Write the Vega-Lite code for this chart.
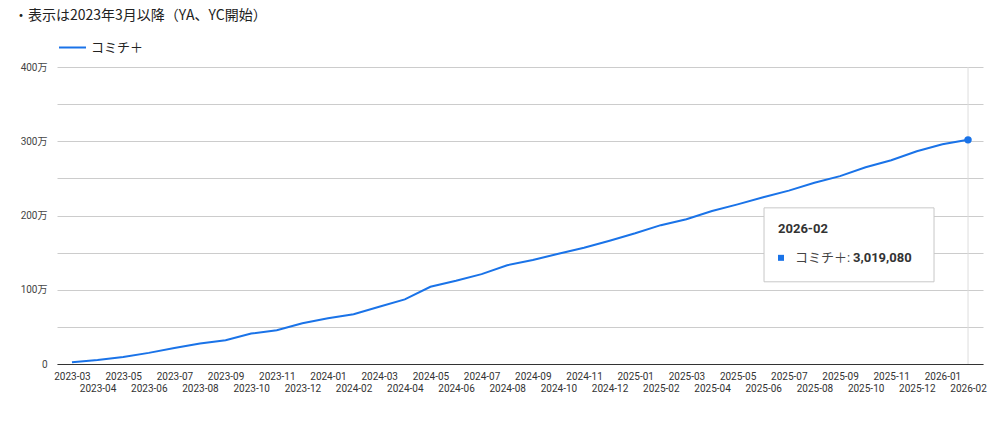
{
  "$schema": "https://vega.github.io/schema/vega-lite/v6.json",
  "width": 926,
  "height": 297,
  "autosize": {"type": "none"},
  "padding": {"left": 57, "top": 67, "right": 18, "bottom": 63},
  "background": "white",
  "title": {
    "text": "・表示は2023年3月以降（YA、YC開始）",
    "anchor": "start",
    "frame": "group",
    "dx": -43,
    "offset": 10,
    "font": "Noto Sans CJK JP",
    "fontSize": 14,
    "fontWeight": "normal",
    "color": "#222222"
  },
  "config": {
    "view": {"stroke": null},
    "font": "Roboto",
    "axis": {"labelFont": "Roboto", "labelColor": "#444444", "labelFontSize": 10, "ticks": false, "title": null}
  },
  "data": {
    "values": [
      {"month": "2023-03", "value": 25000},
      {"month": "2023-04", "value": 55000},
      {"month": "2023-05", "value": 95000},
      {"month": "2023-06", "value": 150000},
      {"month": "2023-07", "value": 215000},
      {"month": "2023-08", "value": 275000},
      {"month": "2023-09", "value": 320000},
      {"month": "2023-10", "value": 410000},
      {"month": "2023-11", "value": 455000},
      {"month": "2023-12", "value": 550000},
      {"month": "2024-01", "value": 615000},
      {"month": "2024-02", "value": 670000},
      {"month": "2024-03", "value": 770000},
      {"month": "2024-04", "value": 870000},
      {"month": "2024-05", "value": 1040000},
      {"month": "2024-06", "value": 1120000},
      {"month": "2024-07", "value": 1210000},
      {"month": "2024-08", "value": 1330000},
      {"month": "2024-09", "value": 1400000},
      {"month": "2024-10", "value": 1485000},
      {"month": "2024-11", "value": 1565000},
      {"month": "2024-12", "value": 1660000},
      {"month": "2025-01", "value": 1760000},
      {"month": "2025-02", "value": 1870000},
      {"month": "2025-03", "value": 1950000},
      {"month": "2025-04", "value": 2060000},
      {"month": "2025-05", "value": 2150000},
      {"month": "2025-06", "value": 2245000},
      {"month": "2025-07", "value": 2335000},
      {"month": "2025-08", "value": 2440000},
      {"month": "2025-09", "value": 2530000},
      {"month": "2025-10", "value": 2650000},
      {"month": "2025-11", "value": 2745000},
      {"month": "2025-12", "value": 2865000},
      {"month": "2026-01", "value": 2960000},
      {"month": "2026-02", "value": 3019080}
    ]
  },
  "encoding": {
    "x": {
      "field": "month",
      "type": "ordinal",
      "sort": "ascending",
      "scale": {"type": "point", "padding": 0.585},
      "axis": {
        "labelAngle": 0,
        "labelOverlap": false,
        "labelPadding": 7,
        "labelLineHeight": 12,
        "labelColor": "#333333",
        "labelExpr": "toNumber(substring(datum.value, 5, 7)) % 2 === 1 ? datum.label : [' ', datum.label]",
        "domainColor": "#333333",
        "domainWidth": 1,
        "grid": false
      }
    },
    "y": {
      "field": "value",
      "type": "quantitative",
      "scale": {"domain": [0, 4000000], "nice": false},
      "axis": {
        "values": [0, 500000, 1000000, 1500000, 2000000, 2500000, 3000000, 3500000, 4000000],
        "labelExpr": "datum.value === 0 ? '0' : (datum.value % 1000000 === 0 ? (datum.value / 10000) + '万' : '')",
        "labelFont": "Roboto, Noto Sans CJK JP",
        "labelPadding": 10,
        "domain": false,
        "gridColor": "#cccccc",
        "gridWidth": 1
      }
    }
  },
  "layer": [
    {
      "transform": [{"filter": "datum.month === '2026-02'"}],
      "mark": {"type": "rule", "color": "#dddddd", "strokeWidth": 1},
      "encoding": {"y": null}
    },
    {
      "mark": {"type": "line", "strokeWidth": 2},
      "encoding": {
        "color": {
          "datum": "コミチ＋",
          "scale": {"range": ["#1a73e8"]},
          "legend": {
            "title": null,
            "orient": "none",
            "legendX": 1,
            "legendY": -34,
            "padding": 0,
            "symbolType": "stroke",
            "symbolSize": 729,
            "symbolStrokeWidth": 2,
            "labelOffset": 4,
            "labelFont": "Roboto, Noto Sans CJK JP",
            "labelFontSize": 13,
            "labelColor": "#222222"
          }
        }
      }
    },
    {
      "transform": [{"filter": "datum.month === '2026-02'"}],
      "mark": {"type": "point", "filled": true, "opacity": 1, "size": 55, "color": "#1a73e8"}
    },
    {
      "transform": [{"filter": "datum.month === '2026-02'"}],
      "mark": {
        "type": "point",
        "shape": "M-1,-0.435L1,-0.435L1,0.435L-1,0.435Z",
        "size": 28900,
        "filled": true,
        "opacity": 1,
        "fill": "#ffffff",
        "stroke": "#c8c8c8",
        "strokeWidth": 1,
        "xOffset": -119,
        "yOffset": 105
      }
    },
    {
      "transform": [{"filter": "datum.month === '2026-02'"}],
      "mark": {"type": "text", "align": "left", "baseline": "middle", "dx": -190, "dy": 89, "font": "Roboto", "fontSize": 13, "fontWeight": "bold", "color": "#333333"},
      "encoding": {"text": {"field": "month"}}
    },
    {
      "transform": [{"filter": "datum.month === '2026-02'"}],
      "mark": {"type": "point", "shape": "square", "size": 36, "filled": true, "opacity": 1, "color": "#1a73e8", "xOffset": -187, "yOffset": 118}
    },
    {
      "transform": [{"filter": "datum.month === '2026-02'"}],
      "mark": {"type": "text", "text": "コミチ＋:", "align": "left", "baseline": "middle", "dx": -173, "dy": 118, "font": "Roboto, Noto Sans CJK JP", "fontSize": 13, "color": "#444444"}
    },
    {
      "transform": [{"filter": "datum.month === '2026-02'"}],
      "mark": {"type": "text", "align": "left", "baseline": "middle", "dx": -115, "dy": 118, "font": "Roboto", "fontSize": 13, "fontWeight": "bold", "color": "#333333"},
      "encoding": {"text": {"field": "value", "type": "quantitative", "format": ","}}
    }
  ]
}
